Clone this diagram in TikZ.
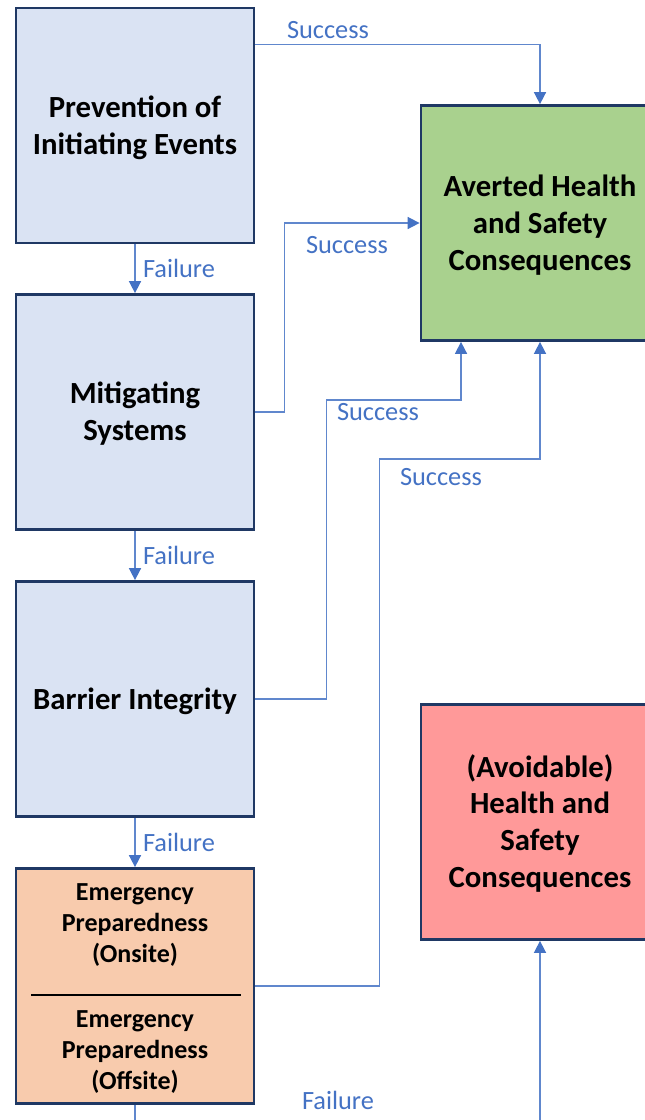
\documentclass[tikz,border=0pt]{standalone}
\usepackage{fontspec}
\setmainfont{Carlito}
\usetikzlibrary{arrows.meta}

\definecolor{navy}{HTML}{1F3864}
\definecolor{linkblue}{HTML}{4472C4}
\definecolor{boxblue}{HTML}{DAE3F3}
\definecolor{boxorange}{HTML}{F8CBAD}
\definecolor{boxgreen}{HTML}{A9D18E}
\definecolor{boxred}{HTML}{FF9999}

\newcommand{\boxtext}[1]{\raisebox{-0.06cm}[\height][\depth]{\begin{tabular}{@{}c@{}}#1\end{tabular}}}

\tikzset{
  stage/.style={draw=navy, line width=1.6pt, fill=#1, minimum width=4.76cm,
    minimum height=4.7cm, inner sep=0pt, font=\fontsize{17.5}{21}\selectfont\bfseries},
  conn/.style={draw=linkblue!85!white, line width=0.9pt,
    -{Triangle[length=0.24cm,width=0.24cm,color=linkblue]}},
  lbl/.style={text=linkblue, inner sep=0pt, font=\fontsize{15}{18}\selectfont},
  small/.style={inner sep=0pt, font=\fontsize{14.8}{17.6}\selectfont\bfseries}
}

\begin{document}
\begin{tikzpicture}[x=0.02cm, y=-0.02cm]
  \useasboundingbox (0,0) rectangle (645,1120);
  \clip (0,0) rectangle (645,1120);

  % left column
  \node[stage=boxblue] (prev) at (135,125.5) {\boxtext{Prevention of\\Initiating Events}};
  \node[stage=boxblue] (mitig) at (135,412) {\boxtext{Mitigating\\Systems}};
  \node[stage=boxblue] (barrier) at (135,699) {\boxtext{Barrier Integrity}};
  \node[stage=boxorange] (emerg) at (135,986) {};
  \node[small] (onsite) at (135,922) {\boxtext{Emergency\\Preparedness\\(Onsite)}};
  \node[small] (offsite) at (135,1049) {\boxtext{Emergency\\Preparedness\\(Offsite)}};
  \draw[line width=0.6pt] (31,995) -- (241,995);

  % right column
  \node[stage=boxgreen] (avert) at (540,223) {\boxtext{Averted Health\\and Safety\\Consequences}};
  \node[stage=boxred] (harm) at (540,822) {\boxtext{(Avoidable)\\Health and\\Safety\\Consequences}};

  % failure path
  \draw[conn] (prev) -- (mitig);
  \draw[conn] (mitig) -- (barrier);
  \draw[conn] (barrier) -- (emerg);
  \draw[conn] (emerg.south) -- ++(0,40) -| (harm.south);

  % success paths
  \coordinate (in3) at ([xshift=-1.58cm]avert.south);
  \draw[conn] ([yshift=-0.76cm]prev.north east) -| (avert.north);
  \draw[conn] (mitig.east) -- ++(29,0) |- (avert.west);
  \draw[conn] (barrier.east) -| ++(71,-299) -| (in3);
  \draw[conn] (emerg.east) -| ++(124,-527) -| (avert.south);

  % labels
  \node[lbl] (s1) at (328,30) {Success};
  \node[lbl] (s2) at (347,245) {Success};
  \node[lbl] (s3) at (378,412) {Success};
  \node[lbl] (s4) at (441,477) {Success};
  \node[lbl] (f1) at (179,268) {Failure};
  \node[lbl] (f2) at (179,555) {Failure};
  \node[lbl] (f3) at (179,842) {Failure};
  \node[lbl] (f4) at (338,1100) {Failure};
\end{tikzpicture}
\end{document}
